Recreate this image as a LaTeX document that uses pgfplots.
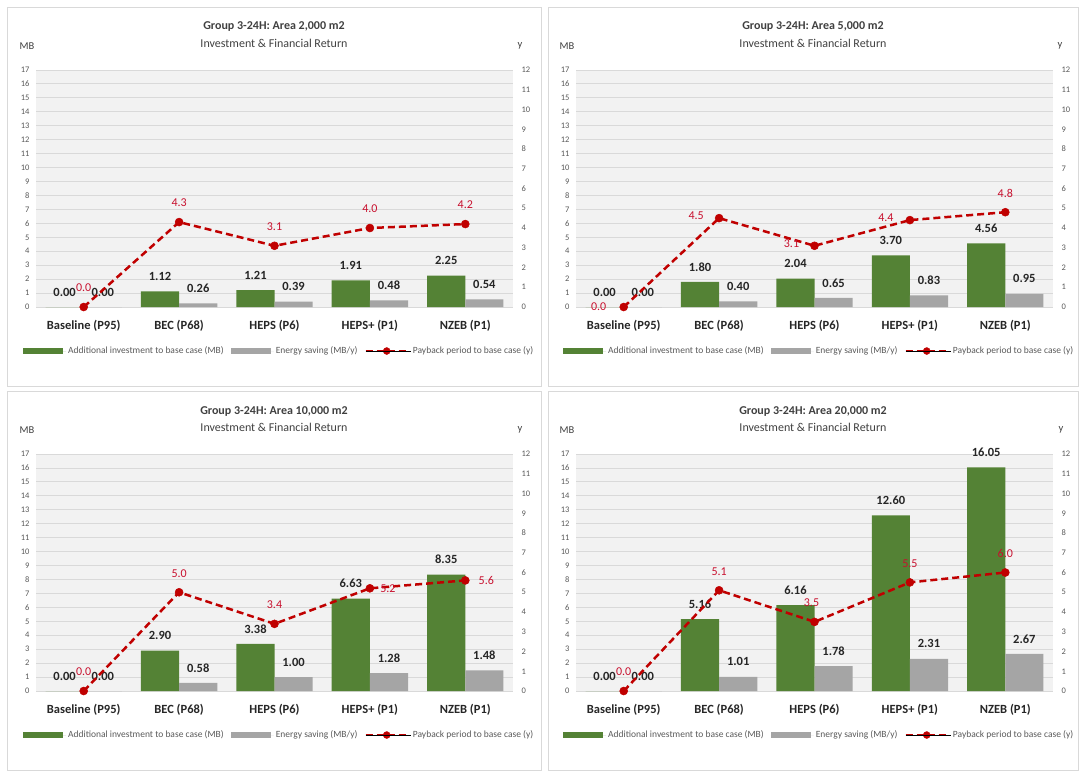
\documentclass[border=0pt]{standalone}
\usepackage{fontspec}
\setmainfont{Carlito}
\usepackage{pgfplots}
\usepackage{pgfplotstable}
\pgfplotsset{compat=1.18}

\definecolor{greenc}{HTML}{548235}
\definecolor{grayc}{HTML}{A5A5A5}
\definecolor{redc}{HTML}{C00000}
\definecolor{labred}{HTML}{C8102E}
\definecolor{bgc}{HTML}{F2F2F2}
\definecolor{gridc}{HTML}{D9D9D9}
\definecolor{tickc}{HTML}{595959}
\definecolor{catc}{HTML}{262626}
\definecolor{borderc}{HTML}{D9D9D9}
\definecolor{titlec}{HTML}{404040}

% x inv sav pay dx dy
\pgfplotstableread{
x inv sav pay dx dy
0 0.00 0.00 0.0 0 19
1 1.12 0.26 4.3 0 19
2 1.21 0.39 3.1 0 19
3 1.91 0.48 4.0 0 19
4 2.25 0.54 4.2 0 19
}\dataA
\pgfplotstableread{
x inv sav pay dx dy
0 0.00 0.00 0.0 -25 0
1 1.80 0.40 4.5 -23 2
2 2.04 0.65 3.1 -23 2
3 3.70 0.83 4.4 -24 2
4 4.56 0.95 4.8 0 19
}\dataB
\pgfplotstableread{
x inv sav pay dx dy
0 0.00 0.00 0.0 0 19
1 2.90 0.58 5.0 0 19
2 3.38 1.00 3.4 0 19
3 6.63 1.28 5.2 18 0
4 8.35 1.48 5.6 21 0
}\dataC
\pgfplotstableread{
x inv sav pay dx dy
0 0.00 0.00 0.0 0 19
1 5.16 1.01 5.1 0 19
2 6.16 1.78 3.5 -3 19
3 12.60 2.31 5.5 0 19
4 16.05 2.67 6.0 0 19
}\dataD

\pgfplotsset{
  leftax/.style={
    scale only axis, width=477pt, height=237pt, anchor=south west,
    xmin=-0.5, xmax=4.5, ymin=0, ymax=17,
    ytick={0,1,...,17}, xtick={0,1,2,3,4},
    xticklabels={Baseline (P95),BEC (P68),HEPS (P6),HEPS+ (P1),NZEB (P1)},
    ymajorgrids, major grid style={draw=gridc, line width=0.9pt},
    axis line style={draw=none}, major tick style={draw=none},
    axis background/.style={fill=bgc},
    ybar, bar width=0.4,
    /pgf/number format/assume math mode=true,
    yticklabel style={font=\fontsize{8.5}{10}\selectfont, text=tickc, xshift=-3pt},
    xticklabel style={font=\bfseries\fontsize{12.5}{14}\selectfont, text=catc, yshift=-5pt},
    legend columns=3,
    legend style={at={(-0.0273,-0.1857)}, anchor=west, draw=none, fill=none,
      inner sep=0pt, font=\fontsize{9.5}{11}\selectfont, text=tickc,
      /tikz/every even column/.append style={column sep=5pt},
      /tikz/every odd column/.append style={column sep=0pt}},
  },
  rightax/.style={
    scale only axis, width=477pt, height=237pt, anchor=south west,
    xmin=-0.5, xmax=4.5, ymin=0, ymax=12, ytick={0,1,...,12},
    axis y line*=right, hide x axis,
    y axis line style={draw=none}, major tick style={draw=none},
    /pgf/number format/assume math mode=true,
    yticklabel style={font=\fontsize{8.5}{10}\selectfont, text=tickc, xshift=5pt},
  },
  barlab/.style={
    nodes near coords={\pgfmathprintnumber[fixed,fixed zerofill,precision=2]{\pgfplotspointmeta}},
    every node near coord/.append style={anchor=center, yshift=15pt,
      font=\bfseries\fontsize{12.5}{14}\selectfont, text=catc},
  },
  invbar/.style={fill=greenc, draw=none, bar shift=-0.2, barlab,
    legend image code/.code={\fill[greenc] (0pt,-2.6pt) rectangle (40pt,2.6pt);
      \path (0pt,0pt) -- (43pt,0pt);}},
  savbar/.style={fill=grayc, draw=none, bar shift=0.2, barlab,
    legend image code/.code={\fill[grayc] (0pt,-2.6pt) rectangle (40pt,2.6pt);
      \path (0pt,0pt) -- (43pt,0pt);}},
  payline/.style={
    redc, line width=2.5pt, dash pattern=on 7pt off 4pt,
    mark=*, mark size=4pt, mark options={solid, fill=redc, draw=redc, line width=0.5pt},
    point meta=explicit,
    nodes near coords={\pgfmathprintnumber[fixed,fixed zerofill,precision=1]{\pgfplotspointmeta}},
    visualization depends on={\thisrow{dx}\as\dx},
    visualization depends on={\thisrow{dy}\as\dy},
    every node near coord/.append style={anchor=center, solid, xshift=\dx pt, yshift=\dy pt,
      font=\fontsize{12}{14}\selectfont, text=labred},
  },
  paylegend/.style={legend image code/.code={
    \draw[redc, line width=2.5pt, dash pattern=on 7pt off 4pt] (0pt,0pt) -- (42pt,0pt);
    \fill[redc] (21pt,0pt) circle (3.5pt);
    \path (0pt,0pt) -- (45pt,0pt);}},
}

\newcommand{\panel}[3]{% #1 x-origin, #2 y-bottom, #3 data
  \begin{axis}[leftax, at={(#1pt,-#2pt)}]
    \addplot[invbar] table[x=x,y=inv] {#3};
    \addlegendentry{Additional investment to base case (MB)}
    \addplot[savbar] table[x=x,y=sav] {#3};
    \addlegendentry{Energy saving (MB/y)}
    \addlegendimage{paylegend}
    \addlegendentry{Payback period to base case (y)}
  \end{axis}
  \begin{axis}[rightax, at={(#1pt,-#2pt)}]
    \addplot[payline] table[x=x,y=pay,meta=pay] {#3};
  \end{axis}
}

\begin{document}
\begin{tikzpicture}
\path[use as bounding box] (0pt,0pt) rectangle (1083pt,-772pt);
% panel borders
\draw[borderc, line width=0.8pt] (7pt,-7pt) rectangle (541pt,-386pt);
\draw[borderc, line width=0.8pt] (548pt,-7pt) rectangle (1078pt,-386pt);
\draw[borderc, line width=0.8pt] (7pt,-391pt) rectangle (541pt,-770pt);
\draw[borderc, line width=0.8pt] (548pt,-391pt) rectangle (1078pt,-770pt);

\panel{36}{307}{\dataA}
\panel{576}{307}{\dataB}
\panel{36}{691}{\dataC}
\panel{576}{691}{\dataD}

% titles
\foreach \cx/\ty/\area in {274/0/{2,000}, 813/0/{5,000}, 274/384/{10,000}, 813/384/{20,000}}{
  \node[font=\bfseries\fontsize{12}{14}\selectfont, text=titlec] at (\cx pt,-27pt-\ty pt) {Group 3-24H: Area \area\ m2};
  \node[font=\fontsize{12}{14}\selectfont, text=titlec] at (\cx pt,-43pt-\ty pt) {Investment \& Financial Return};
}
\foreach \mx/\yx/\ty in {27/520/0, 567/1060/0, 27/520/384, 567/1061/384}{
  \node[font=\fontsize{10.5}{12}\selectfont, text=titlec] at (\mx pt,-46pt-\ty pt) {MB};
  \node[font=\fontsize{10.5}{12}\selectfont, text=titlec] at (\yx pt,-46pt-\ty pt) {y};
}
\end{tikzpicture}
\end{document}
